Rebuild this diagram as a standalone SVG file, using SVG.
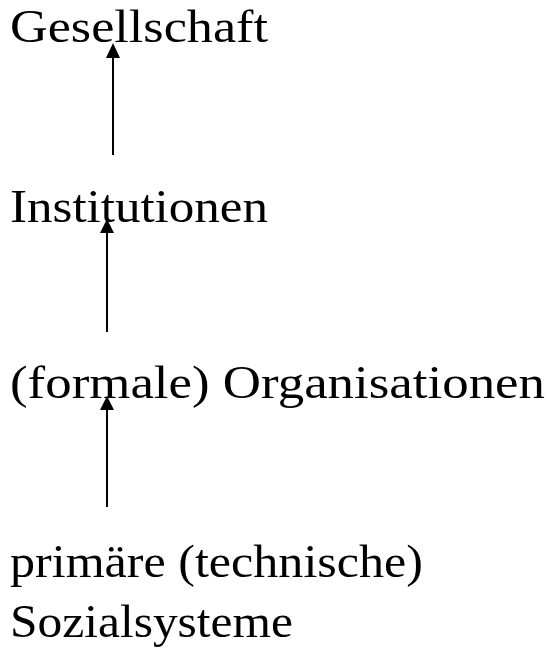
<svg xmlns="http://www.w3.org/2000/svg" width="551" height="648" viewBox="0 0 551 648">
<style>
text{font-family:"Liberation Serif","DejaVu Serif",serif;font-size:47px;fill:#000}
.c{stroke:#000;stroke-width:2;fill:none}
.h{fill:#000}
</style>
<rect width="551" height="648" fill="#fff"/>
<g id="n1"><text x="10" y="42" textLength="258" lengthAdjust="spacingAndGlyphs">Gesellschaft</text></g>
<g id="n2"><text x="10" y="222" textLength="258" lengthAdjust="spacingAndGlyphs">Institutionen</text></g>
<g id="n3"><text x="10" y="398" textLength="535" lengthAdjust="spacingAndGlyphs">(formale) Organisationen</text></g>
<g id="n4"><text x="10" y="577" textLength="413" lengthAdjust="spacingAndGlyphs">primäre (technische)</text><text x="10" y="637" textLength="283" lengthAdjust="spacingAndGlyphs">Sozialsysteme</text></g>
<g id="connectors">
<line class="c" x1="113" y1="155" x2="113" y2="56"/>
<polygon class="h" points="113,43 106,58 120,58"/>
<line class="c" x1="107" y1="332" x2="107" y2="231"/>
<polygon class="h" points="107,219 100,233 114,233"/>
<line class="c" x1="107" y1="507" x2="107" y2="408"/>
<polygon class="h" points="107,396 100,410 114,410"/>
</g>
</svg>
